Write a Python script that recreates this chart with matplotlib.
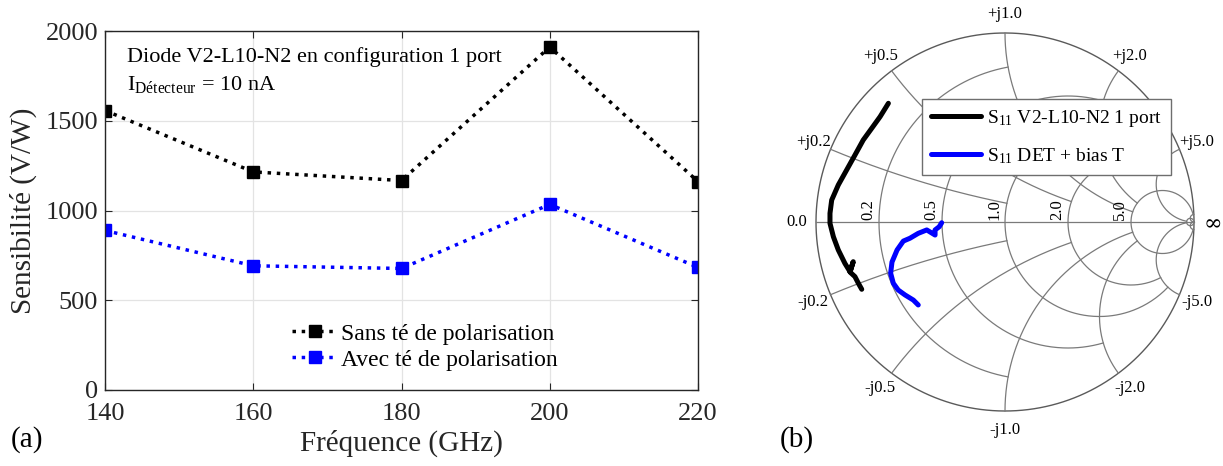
import matplotlib.pyplot as plt
import numpy as np

# (a) sensibilite vs frequence
freq = [140, 160, 180, 200, 220]
sans_te = [1557, 1215, 1167, 1911, 1161]
avec_te = [889, 692, 677, 1034, 683]

# (b) S11 traces (reflection coefficient re / im)
s11_port_re = [-0.617, -0.661, -0.705, -0.750, -0.794, -0.838, -0.882, -0.917, -0.926,
               -0.926, -0.908, -0.882, -0.847, -0.820, -0.803, -0.820, -0.794, -0.776, -0.758]
s11_port_im = [0.628, 0.557, 0.496, 0.434, 0.354, 0.275, 0.196, 0.116, 0.046,
               -0.007, -0.078, -0.148, -0.219, -0.263, -0.210, -0.265, -0.289, -0.324, -0.356]
s11_det_re = [-0.335, -0.348, -0.370, -0.370, -0.414, -0.459, -0.503, -0.538, -0.571,
              -0.598, -0.605, -0.591, -0.565, -0.529, -0.485, -0.459]
s11_det_im = [-0.004, -0.025, -0.042, -0.069, -0.042, -0.060, -0.086, -0.101, -0.148,
              -0.212, -0.271, -0.324, -0.360, -0.386, -0.413, -0.439]

# smith grid: circle value and where its arc stops
grid_values = [0.2, 0.5, 1, 2, 5, 50]
grid_ends = [1, 2, 5, 5, 50, np.inf]
r_labels = ['0.2', '0.5', '1.0', '2.0', '5.0']
x_labels = ['0.2', '0.5', '1.0', '2.0', '5.0']

plt.rcParams['font.family'] = 'Liberation Serif'
plt.rcParams['mathtext.fontset'] = 'custom'
plt.rcParams['mathtext.rm'] = 'Liberation Serif'
plt.rcParams['mathtext.it'] = 'Liberation Serif:italic'

W, H = 1223, 466
fig = plt.figure(figsize=(W / 100, H / 100), dpi=100)

# ---------------- panel (a)
ax = fig.add_axes([105 / W, 76 / H, 593 / W, 359 / H])
ax.plot(freq, sans_te, linestyle=':', color='k', lw=2.5, marker='s', ms=8,
        label='Sans té de polarisation')
ax.plot(freq, avec_te, linestyle=':', color='#0000ff', lw=2.5, marker='s', ms=8,
        label='Avec té de polarisation')
ax.set_xlim(140, 220)
ax.set_ylim(0, 2000)
ax.set_xticks(freq)
ax.set_yticks([0, 500, 1000, 1500, 2000])
ax.grid(True, color='#e3e3e3', lw=0.9)
ax.set_axisbelow(True)
for sp in ax.spines.values():
    sp.set_color('#262626')
    sp.set_linewidth(1.0)
ax.tick_params(direction='in', length=5, top=True, right=True, labelsize=19,
               colors='#262626', labelcolor='#262626')
ax.tick_params(axis='x', pad=9)
ax.tick_params(axis='y', pad=5)
ax.set_xlabel('Fréquence (GHz)', fontsize=21, color='#262626', labelpad=4)
ax.set_ylabel('Sensibilité (V/W)', fontsize=21, color='#262626', labelpad=6)
ax.text(0.037, 0.928, 'Diode V2-L10-N2 en configuration 1 port', transform=ax.transAxes,
        fontsize=16, va='center', ha='left')
ax.text(0.037, 0.85, r'I$_{\mathregular{Détecteur}}$ = 10 nA', transform=ax.transAxes,
        fontsize=16, va='center', ha='left')
ax.legend(loc='upper left', bbox_to_anchor=(0.30, 0.213), frameon=False, fontsize=17,
          handlelength=1.95, handletextpad=0.1, labelspacing=0.2, borderaxespad=0)
fig.text(27 / W, 1 - 440 / H, '(a)', fontsize=21, ha='center', va='center')

# ---------------- panel (b) smith chart, 1 unit = 189 px, centre at (1005, 222)
cx, cy, R = 1005, 222, 189
x0, x1 = 780, W
sm = fig.add_axes([x0 / W, 0, (x1 - x0) / W, 1])
sm.set_xlim((x0 - cx) / R, (x1 - cx) / R)
sm.set_ylim((cy - H) / R, cy / R)
sm.axis('off')


def gamma(z):
    return (z - 1) / (z + 1)


gcol = '#7a7a7a'
# outer circle and real axis
t = np.linspace(-np.pi / 2, np.pi / 2, 600)
g = gamma(1j * np.tan(t))
sm.plot(g.real, g.imag, color='#5a5a5a', lw=1.0)
sm.plot([-1, 1], [0, 0], color=gcol, lw=0.9)

for v, e in zip(grid_values, grid_ends):
    # resistance circle r = v for |x| <= e
    te = np.pi / 2 if np.isinf(e) else np.arctan(e)
    t = np.linspace(-te, te, 500)
    g = gamma(v + 1j * np.tan(t))
    sm.plot(g.real, g.imag, color=gcol, lw=0.9)
    # reactance arcs x = +-v for r <= e
    t = np.linspace(0, te, 500)
    for s in (1, -1):
        g = gamma(np.tan(t) + 1j * s * v)
        sm.plot(g.real, g.imag, color=gcol, lw=0.9)

for v, lab in zip(grid_values, r_labels):
    gr = (v - 1) / (v + 1)
    sm.text(gr - 0.015, 0.01, lab, rotation=90, ha='right', va='bottom', fontsize=12)

for v, lab in zip(grid_values, x_labels):
    th = np.pi - 2 * np.arctan(v)
    for s, sign in ((1, '+'), (-1, '-')):
        sm.text(1.1 * np.cos(th), s * 1.1 * np.sin(th), sign + 'j' + lab,
                ha='center', va='center', fontsize=12)
sm.text(-1.1, 0, '0.0', ha='center', va='center', fontsize=12)
sm.text(1.1, -0.015, '∞', ha='center', va='center', fontsize=16, family='DejaVu Serif')

sm.plot(s11_port_re, s11_port_im, color='k', lw=3.6, solid_capstyle='round',
        solid_joinstyle='round', label=r'$\mathregular{S_{11}}$ V2-L10-N2 1 port')
sm.plot(s11_det_re, s11_det_im, color='#0000ff', lw=3.6, solid_capstyle='round',
        solid_joinstyle='round', label=r'$\mathregular{S_{11}}$ DET + bias T')
leg = sm.legend(loc='upper left', bbox_to_anchor=((922 - x0) / (x1 - x0), 1 - 99 / H),
                borderaxespad=0, fontsize=14, fancybox=False, framealpha=1,
                edgecolor='#6e6e6e', handlelength=2.6, handletextpad=0.3,
                labelspacing=0.9, borderpad=0.45)
leg.get_frame().set_linewidth(1.0)
fig.text(797 / W, 1 - 440 / H, '(b)', fontsize=21, ha='center', va='center')

fig.savefig('out.png', dpi=100)
